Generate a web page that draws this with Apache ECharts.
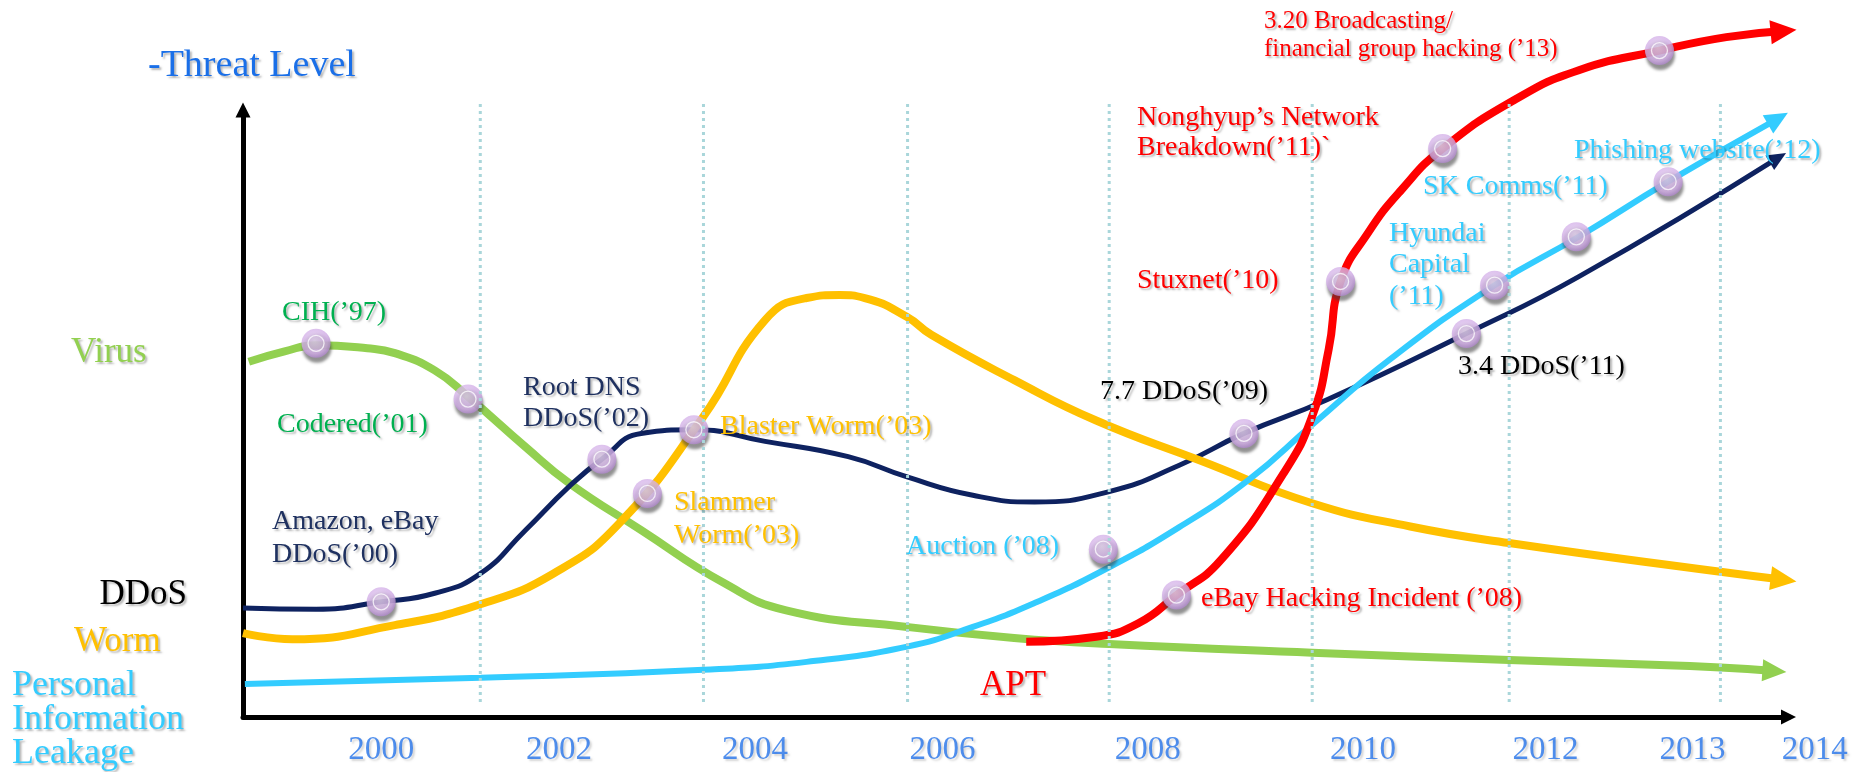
<!DOCTYPE html>
<html><head><meta charset="utf-8">
<script src="https://cdn.jsdelivr.net/npm/echarts@6/dist/echarts.min.js"></script>
<style>html,body{margin:0;padding:0;background:#fff}#c{width:1861px;height:772px}</style>
</head><body><div id="c"></div>
<script>
// ---------------- DATA (x = time index 0..100, y = threat level) ----------------
const seriesNames = ['Virus', 'DDoS', 'Worm', 'Personal\nInformation\nLeakage', 'APT'];
const axisTitle = '-Threat Level';
const yearLabels = ['2000', '2002', '2004', '2006', '2008', '2010', '2012', '2013', '2014'];
const yearPos = [8.91, 20.38, 33.02, 45.10, 58.34, 72.21, 83.98, 93.46, 101.35];
const gridYears = [15.30, 29.69, 42.85, 55.85, 68.94, 81.64, 95.26];

const virus = [[0.37,58.0],[2.68,59.7],[4.71,60.7],[8.02,60.2],[9.79,59.4],[12.36,56.6],[14.51,52.3],[18.21,44.1],[21.02,38.2],[25.67,30.5],[30.99,21.9],[35.02,17.4],[42.82,14.7],[49.72,12.9],[55.85,11.9],[68.94,10.5],[81.64,9.3],[95.26,8.1],[98.74,7.5]];
const ddos = [[0,17.8],[4.71,17.6],[8.91,18.8],[12.36,20.2],[15.30,23.4],[18.21,30.5],[21.02,37.6],[23.14,42.1],[25.67,46.3],[29.07,46.9],[33.66,45.0],[39.02,42.5],[42.82,39.2],[47.06,36.2],[51.03,35.1],[55.85,36.8],[60.37,41.1],[64.54,46.3],[69.82,51.7],[78.88,62.6],[86.13,71.9],[98.97,91.3]];
const worm = [[0,13.7],[3.18,12.7],[9.79,15.0],[15.30,18.4],[20.0,23.4],[24.25,31.6],[29.67,49.0],[33.66,64.8],[36.34,68.4],[38.48,68.9],[40.09,68.4],[42.82,65.3],[44.38,62.4],[49.73,55.0],[55.01,48.4],[61.67,41.9],[68.94,34.9],[75.26,31.1],[81.64,28.4],[95.26,23.7],[99.33,22.4]];
const leakage = [[0.12,5.4],[15.34,6.4],[29.69,7.7],[36.34,9.0],[42.82,11.5],[47.06,14.7],[51.03,18.6],[55.51,24.0],[60.37,31.0],[64.88,38.8],[68.94,47.7],[73.91,58.3],[80.70,70.5],[86.12,78.4],[91.89,87.4],[98.97,97.7]];
const apt = [[50.50,12.3],[55.01,13.1],[57.73,15.3],[60.19,19.9],[63.04,25.6],[67.10,39.8],[69.01,49.6],[70.0,60.0],[70.77,71.1],[72.53,79.0],[74.67,86.0],[77.35,92.8],[82.02,100.8],[86.13,105.6],[91.33,108.8],[95.64,111.0],[99.33,112.0]];

const eventNames = ['CIH(’97)', 'Codered(’01)', 'Amazon, eBay\nDDoS(’00)', 'Root DNS\nDDoS(’02)', 'Slammer\nWorm(’03)', 'Blaster Worm(’03)', 'Auction (’08)', 'eBay Hacking Incident (’08)', '7.7 DDoS(’09)', 'Stuxnet(’10)', 'Hyundai\nCapital\n(’11)', '3.4 DDoS(’11)', 'SK Comms(’11)', 'Nonghyup’s Network\nBreakdown(’11)`', 'Phishing website(’12)', '3.20 Broadcasting/\nfinancial group hacking (’13)'];
const eventX = [4.71, 14.51, 8.91, 23.14, 26.07, 29.07, 55.47, 60.19, 64.54, 70.77, 80.70, 78.88, 85.97, 77.35, 91.89, 91.33];
const eventY = [61.0, 51.9, 18.8, 42.1, 36.5, 46.9, 27.4, 19.9, 46.3, 71.1, 70.5, 62.6, 78.4, 92.8, 87.4, 108.8];
const extraLabel = 'APT';

// ---------------- LAYOUT & STYLE ----------------
const FONT = "'Liberation Serif','Times New Roman',serif";
const C = {green:'#92D050', dgreen:'#00B050', navy:'#0E2260', navyText:'#1F3160', yellow:'#FFC000', cyan:'#33CCFF', red:'#FF0000', blue:'#2473EA', black:'#000000'};
const SH = {textShadowColor:'rgba(0,0,0,0.28)', textShadowBlur:2, textShadowOffsetX:2, textShadowOffsetY:2};
// [x px, center y px, color, size, lineHeight]
const eventLayout = [
  [282, 313, C.dgreen, 28, 28],
  [277, 425, C.dgreen, 28, 28],
  [272, 538, C.navyText, 28, 33],
  [523, 403, C.navyText, 28, 31],
  [674, 519, C.yellow, 28, 33],
  [720, 427, C.yellow, 28, 28],
  [906, 547, C.cyan, 28, 28],
  [1201, 599, C.red, 28, 28],
  [1100, 392, C.black, 28, 28],
  [1137, 281, C.red, 28, 28],
  [1389, 265, C.cyan, 28, 31.5],
  [1458, 367, C.black, 28, 28],
  [1423, 187, C.cyan, 28, 28],
  [1137, 133, C.red, 28, 30],
  [1574, 151, C.cyan, 28, 28],
  [1264, 35, C.red, 25, 28]
];
// series label layout: [x, y, align, color, size, lineHeight]
const nameLayout = [
  [71, 353, 'left', C.green, 35, 35],
  [187, 595, 'right', C.black, 35, 35],
  [74, 642, 'left', C.yellow, 35, 35],
  [12, 720, 'left', C.cyan, 36, 34]
];

function txt(text, x, y, color, size, align, lh) {
  return {type:'text', x, y, z:100, silent:true,
    style: Object.assign({text, fill:color, font: size + 'px ' + FONT,
      textAlign: align, align: align, textVerticalAlign:'middle', verticalAlign:'middle', lineHeight: lh}, SH)};
}

function curve(name, pts, color, width, head, z) {
  const data = pts.map((p, i) => i === pts.length - 1
    ? {value:p, symbol:'triangle', symbolSize:head.size, symbolRotate:head.rot, itemStyle:{color, borderWidth:0}}
    : {value:p});
  return {type:'line', name, data, z, smooth:0.5, symbol:'none', showSymbol:true, showAllSymbol:true,
    clip:false, silent:true, lineStyle:{color, width, cap:'butt', join:'round'}, itemStyle:{color, borderWidth:0},
    emphasis:{disabled:true}};
}

const gridData = [];
gridYears.forEach(x => { gridData.push([x, 2.45], [x, 100.7], [x, '-']); });

const graphics = [txt(axisTitle, 148, 66, '#1A6FE8', 38, 'left', 38)];
nameLayout.forEach((l, i) => graphics.push(txt(seriesNames[i], l[0], l[1], l[3], l[4], l[2], l[5])));
eventLayout.forEach((l, i) => graphics.push(txt(eventNames[i], l[0], l[1], l[2], l[3], 'left', l[4])));
graphics.push(txt(extraLabel, 980, 686, C.red, 35, 'left', 35));

const markerData = eventX.map((x, i) => [x, eventY[i]]);

const option = {
  animation:false,
  backgroundColor:'#ffffff',
  grid:{left:243, top:110, width:1545.5, height:607},
  xAxis:{type:'value', min:0, max:99.65,
    axisLine:{show:true, onZero:false, symbol:['none','triangle'], symbolSize:[15,15], lineStyle:{color:'#000', width:5}},
    axisTick:{show:false}, axisLabel:{show:false}, splitLine:{show:false}},
  yAxis:{type:'value', min:0, max:99.1,
    axisLine:{show:true, onZero:false, symbol:['none','triangle'], symbolSize:[15,15], lineStyle:{color:'#000', width:5}},
    axisTick:{show:false}, axisLabel:{show:false}, splitLine:{show:false}},
  series:[
    curve('Virus', virus, C.green, 8, {size:[22,24], rot:-94}, 2),
    curve('DDoS', ddos, C.navy, 5, {size:[17,19], rot:-59}, 2),
    curve('Worm', worm, C.yellow, 8, {size:[24,26], rot:-97}, 2),
    curve('Personal Information Leakage', leakage, C.cyan, 6, {size:[21,23], rot:-60}, 2),
    curve('APT', apt, C.red, 8, {size:[24,26], rot:-84.5}, 2),
    {type:'scatter', data:markerData, symbol:'circle', symbolSize:29, clip:false, z:5, silent:true,
      itemStyle:{color:{type:'radial', x:0.45, y:0.4, r:0.6, colorStops:[{offset:0,color:'#e8d6f4'},{offset:0.75,color:'#d2ade7'},{offset:1,color:'#b089cc'}]},
        shadowColor:'rgba(60,60,60,0.7)', shadowBlur:3, shadowOffsetX:1, shadowOffsetY:5}},
    {type:'scatter', data:markerData, symbol:'circle', symbolSize:16, clip:false, z:6, silent:true,
      itemStyle:{color:'rgba(0,0,0,0)', borderColor:'rgba(255,255,255,0.95)', borderWidth:1.3}},
    {type:'line', data:gridData, symbol:'none', clip:false, z:7, silent:true, connectNulls:false,
      lineStyle:{color:'#a9d6da', width:3, type:[3,4]}},
    {type:'scatter', data:yearPos.map((x, i) => ({value:[x, -5.45], name:yearLabels[i]})), symbolSize:1, clip:false, z:8, silent:true,
      itemStyle:{color:'rgba(0,0,0,0)'},
      label:{show:true, position:'inside', formatter:'{b}', color:C.blue, fontSize:33, fontFamily:FONT,
        textShadowColor:'rgba(0,0,0,0.2)', textShadowBlur:2, textShadowOffsetX:2, textShadowOffsetY:2}}
  ],
  graphic:graphics
};
const chart = echarts.init(document.getElementById('c'));
chart.setOption(option);
</script>
</body></html>
